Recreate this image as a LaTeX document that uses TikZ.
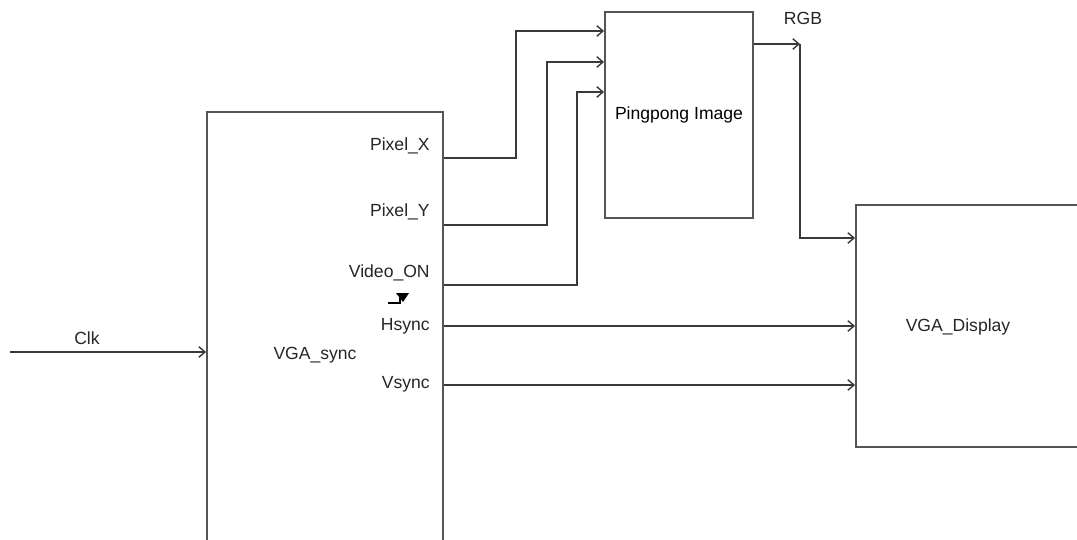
\documentclass[tikz,border=0pt]{standalone}
\usepackage{fontspec}
\setmainfont{Liberation Sans}
\usepackage{tikz}
\usetikzlibrary{arrows.meta,positioning,calc}
\definecolor{wire}{HTML}{3A3A3A}
\definecolor{edge}{HTML}{555555}

\begin{document}
\begin{tikzpicture}[
  x=0.02cm, y=-0.02cm,
  font=\fontsize{10}{12}\selectfont,
  blk/.style={draw=edge, line width=1.1pt, fill=white, inner sep=0pt},
  lbl/.style={inner sep=0pt, text=black!85},
  port/.style={lbl, anchor=east},
  arr/.style={-{Straight Barb[length=3.5pt,width=6pt]}, draw=wire, line width=0.8pt}
]
\clip (0,0) rectangle (1077,540);
\fill[white] (0,0) rectangle (1077,540);

% blocks
\node[blk, minimum width=4.72cm, minimum height=9.76cm] (sync) at (325,356) {};
\node[blk, minimum width=2.96cm, minimum height=4.12cm] (pp) at (679,115) {Pingpong Image};
\node[blk, minimum width=4.68cm, minimum height=4.84cm] (disp) at (973,326) {};
\node[lbl] (syncl) at (315,355) {VGA\_sync};
\node[lbl] (displ) at (958,327) {VGA\_Display};

% ports
\node[port] (pxl) at (430,146) {Pixel\_X};
\node[port] (pyl) at (430,212) {Pixel\_Y};
\node[port] (vol) at (430,273) {Video\_ON};
\node[port] (hsl) at (430,326) {Hsync};
\node[port] (vsl) at (430,384) {Vsync};
\node[lbl] (clkl) at (87,338) {Clk};
\node[lbl] (rgbl) at (803,18) {RGB};

\coordinate (clkin) at (10,352);
\coordinate (rgb) at (800,44);

\draw[arr] (clkin) -- (sync.west |- clkin);
\draw[arr] (sync.east |- 0,158) -- ++(72,0) |- (pp.west |- 0,31);
\draw[arr] (sync.east |- 0,225) -- ++(103,0) |- (pp.west |- 0,62);
\draw[arr] (sync.east |- 0,285) -- ++(133,0) |- (pp.west |- 0,92);
\draw[arr] (sync.east |- 0,326) -- (disp.west |- 0,326);
\draw[arr] (sync.east |- 0,385) -- (disp.west |- 0,385);
\draw[arr] (pp.east |- rgb) -- (rgb);
\draw[arr] (rgb) |- (disp.west |- 0,238);

% mark below Video_ON
\draw[black, line width=0.8pt] (388,303) -- (400,303) -- (400,297);
\fill[black] (396,293) -- (409,293) -- (403,302) -- cycle;
\end{tikzpicture}
\end{document}
